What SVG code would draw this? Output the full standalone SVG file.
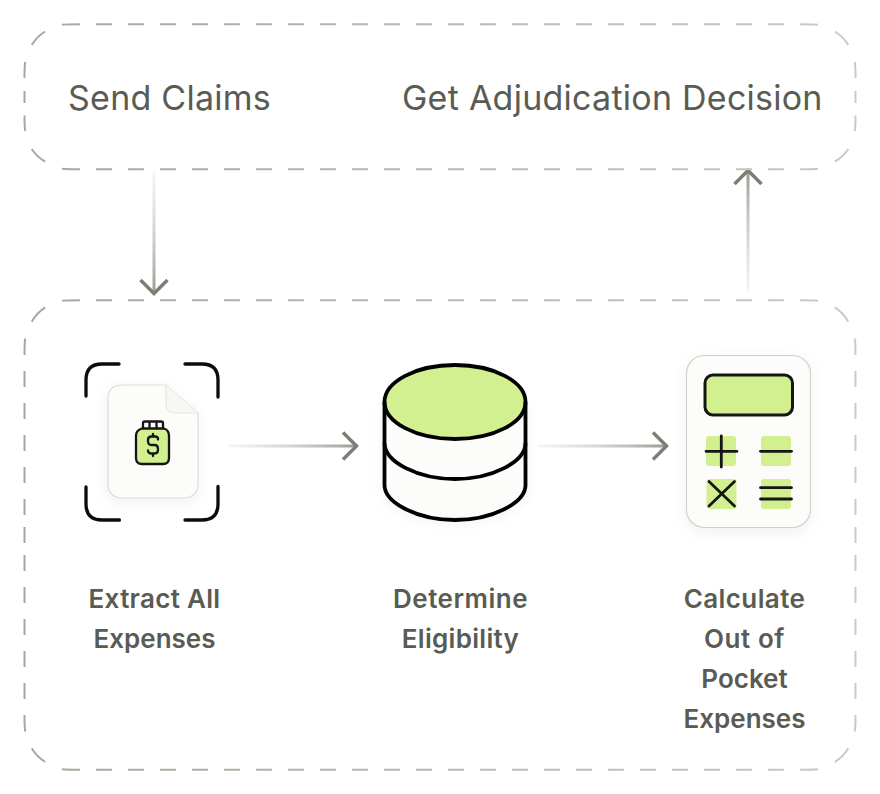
<svg xmlns="http://www.w3.org/2000/svg" width="880" height="794" viewBox="0 0 880 794">
<style>
.box{fill:none;stroke-width:2}
.dash{stroke-dasharray:16 16}
.t{font-family:Inter,"Liberation Sans",sans-serif;fill:#5a5b53}
.h{font-size:34px;font-weight:400;letter-spacing:.25px}
.l{font-size:26px;font-weight:600;text-anchor:middle}
.k{fill:none;stroke:#151515;stroke-linecap:round;stroke-linejoin:round}
.g{fill:#d2f08f}
.c{fill:none;stroke-width:3}
.a{fill:none;stroke:#7b7e75;stroke-width:3.500}
</style>
<defs>
<linearGradient id="bg" gradientUnits="userSpaceOnUse" x1="24" y1="0" x2="856" y2="0"><stop offset="0" stop-color="#a5a99b"/><stop offset="1" stop-color="#c9cbc0"/></linearGradient>
<linearGradient id="d1" gradientUnits="userSpaceOnUse" x1="0" y1="172" x2="0" y2="292"><stop offset="0" stop-color="#ebece7" stop-opacity=".5"/><stop offset="1" stop-color="#9a9e92"/></linearGradient>
<linearGradient id="d2" gradientUnits="userSpaceOnUse" x1="0" y1="292" x2="0" y2="172"><stop offset="0" stop-color="#ebece7" stop-opacity=".5"/><stop offset="1" stop-color="#9a9e92"/></linearGradient>
<linearGradient id="h1" gradientUnits="userSpaceOnUse" x1="228" y1="0" x2="356" y2="0"><stop offset="0" stop-color="#ebece7" stop-opacity=".5"/><stop offset="1" stop-color="#9a9e92"/></linearGradient>
<linearGradient id="h2" gradientUnits="userSpaceOnUse" x1="538" y1="0" x2="666" y2="0"><stop offset="0" stop-color="#ebece7" stop-opacity=".5"/><stop offset="1" stop-color="#9a9e92"/></linearGradient>
<filter id="s" x="-20%" y="-20%" width="140%" height="140%"><feDropShadow dx="0" dy="4" stdDeviation="7" flood-color="#000" flood-opacity=".06"/></filter>
</defs>
<rect width="880" height="794" fill="#fff"/>
<g id="connectors">
<path class="c" stroke="url(#d1)" d="M154 172V292"/>
<path class="a" d="M140.500 280L154 293.500L167.500 280"/>
<path class="c" stroke="url(#d2)" d="M748 292V172"/>
<path class="a" d="M734.500 184L748 170.500L761.500 184"/>
<path class="c" stroke="url(#h1)" d="M228 446H356"/>
<path class="a" d="M343 432.500L356.500 446L343 459.500"/>
<path class="c" stroke="url(#h2)" d="M538 446H666"/>
<path class="a" d="M653 432.500L666.500 446L653 459.500"/>
</g>
<g id="top-group">
<g class="box" stroke="url(#bg)">
<path class="dash" d="M96 24.300H784M96 169.300H784"/>
<path d="M62 24.800Q66 24.300 80 24.300M800 24.300Q814 24.300 818 24.800M62 168.800Q66 169.300 80 169.300M800 169.300Q814 169.300 818 168.800"/>
<path d="M31.700 45Q37 36.500 45.200 31.500M848.300 45Q843 36.500 834.800 31.500M31.700 149Q37 157 45.200 161.700M848.300 149Q843 157 834.800 161.700"/>
<path d="M25.200 62Q24.500 66 24.500 78M24.500 91V103M24.500 115.500Q24.500 127 25.200 131M854.800 62Q855.500 66 855.500 78M855.500 91V103M855.500 115.500Q855.500 127 854.800 131"/>
</g>
<text class="t h" x="68" y="110">Send Claims</text>
<text class="t h" x="402" y="110">Get Adjudication Decision</text>
</g>
<g id="bottom-group">
<g class="box" stroke="url(#bg)">
<path class="dash" d="M96 300.300H784M96 769.700H784"/>
<path d="M62 300.800Q66 300.300 80 300.300M800 300.300Q814 300.300 818 300.800M62 769.200Q66 769.700 80 769.700M800 769.700Q814 769.700 818 769.200"/>
<path d="M31.700 321.700Q37 312.500 45.200 307.300M848.300 321.700Q843 312.500 834.800 307.300M31.700 748.300Q37 757 45.200 762M848.300 748.300Q843 757 834.800 762"/>
<path d="M25.200 338.500Q24.500 343 24.500 355M24.500 371V387M24.500 403V419M24.500 435V451M24.500 467V483M24.500 499V515M24.500 527V543M24.500 555V571M24.500 587V603M24.500 619V635M24.500 651V667M24.500 683V699M24.500 715Q24.500 727 25.200 731.500"/>
<path d="M854.800 338.500Q855.500 343 855.500 355M855.500 371V387M855.500 403V419M855.500 435V451M855.500 467V483M855.500 499V515M855.500 527V543M855.500 555V571M855.500 587V603M855.500 619V635M855.500 651V667M855.500 683V699M855.500 715Q855.500 727 854.800 731.500"/>
</g>
</g>
<g id="extract">
<g stroke="#0c0c0c" stroke-width="3.300" fill="none" stroke-linecap="round">
<path d="M119 364H102Q86 364 86 380V396"/>
<path d="M185 364H202Q218 364 218 380V397"/>
<path d="M86 487V504Q86 520 102 520H119.500"/>
<path d="M218 486.500V504Q218 520 202 520H185"/>
</g>
<path filter="url(#s)" d="M122 385H166L198 413V483Q198 498 183 498H123Q108 498 108 483V399Q108 385 122 385Z" fill="#fcfcfa" stroke="#dcddd5" stroke-width="1.200"/>
<path d="M166 385V404Q166 413 175 413H198" fill="#f7f7f3" stroke="#e6e7e0" stroke-width="1.200"/>
<path class="g" d="M142 428.500H164Q169 430 169 436V458Q169 464 163 464H142Q136 464 136 458V436Q136 430 142 428.500Z"/>
<g class="k" stroke-width="2.300">
<path d="M142 428.500H164Q169 430 169 436V458Q169 464 163 464H142Q136 464 136 458V436Q136 430 142 428.500Z"/>
<path d="M143 428V423Q143 421.500 145 421.500H161Q163 421.500 163 423V428M149.500 422V428M156.500 422V428"/>
<path d="M158 439.500V439Q158 436.500 155 436.500H151.500Q148 436.500 148 440V441Q148 445 151.500 445H154.500Q158 445 158 449V450Q158 453.500 154.500 453.500H151.500Q148 453.500 148 450.500M153 434V436.500M153 453.500V456"/>
</g>
<text class="t l" x="154.500" y="608" letter-spacing=".3">Extract All</text>
<text class="t l" x="154.500" y="648">Expenses</text>
</g>
<g id="determine">
<path filter="url(#s)" d="M384.500 402V485C384.500 503 418 517 455 517C492 517 526 503 526 485V402Z" fill="#fcfcfa"/>
<ellipse class="g" cx="455" cy="402" rx="70.500" ry="37"/>
<g fill="none" stroke="#000" stroke-width="3.800">
<ellipse cx="455" cy="402" rx="70.500" ry="37"/>
<path d="M384.500 402V485C384.500 503 418 520 455 520C492 520 525.500 503 525.500 485V402"/>
<path d="M384.500 443C384.500 462 418 479 455 479C492 479 525.500 462 525.500 443"/>
</g>
<text class="t l" x="460.500" y="608" letter-spacing=".5">Determine</text>
<text class="t l" x="460.500" y="648" letter-spacing=".3">Eligibility</text>
</g>
<g id="calculate">
<rect filter="url(#s)" x="686.500" y="355.500" width="124" height="172" rx="18" fill="#fcfcfa" stroke="#d0d2c8" stroke-width="1.200"/>
<rect class="g" x="705" y="375" width="87.500" height="40" rx="8" stroke="#151515" stroke-width="3"/>
<rect class="g" x="706" y="436" width="30" height="30" rx="3"/>
<rect class="g" x="761" y="436" width="30" height="30" rx="3"/>
<rect class="g" x="706.500" y="479" width="30" height="30" rx="3"/>
<rect class="g" x="761" y="479" width="30" height="30" rx="3"/>
<g class="k" stroke-width="2.800">
<path d="M721.300 436V467M706 451.300H737"/>
<path d="M760.500 451.300H791.500"/>
<path d="M709 481.500L734.500 506M734.500 481.500L709 506"/>
<path d="M760.500 487.700H791.500M760.500 499H791.500"/>
</g>
<text class="t l" x="744.500" y="608" letter-spacing=".4">Calculate</text>
<text class="t l" x="744.500" y="648" letter-spacing=".6">Out of</text>
<text class="t l" x="744.500" y="688">Pocket</text>
<text class="t l" x="744.500" y="728">Expenses</text>
</g>
</svg>
